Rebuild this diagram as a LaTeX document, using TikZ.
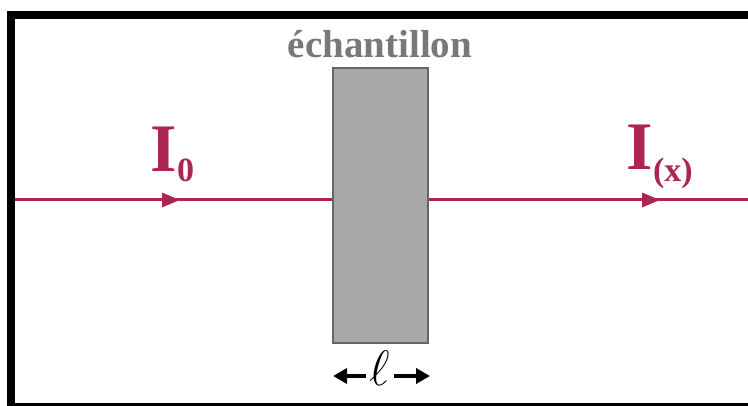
\documentclass[tikz,border=0pt]{standalone}
\usepackage{fontspec}
\setmainfont{Liberation Serif}
\usetikzlibrary{arrows.meta,decorations.markings}
\definecolor{beam}{RGB}{172,38,84}
\definecolor{samplegray}{RGB}{168,168,170}
\definecolor{labelgray}{RGB}{120,120,122}
\tikzset{
  beamline/.style={draw=beam,line width=3pt},
  midarrow/.style={postaction={decorate},decoration={markings,mark=at position #1 with {\arrow{Triangle[length=18pt,width=14pt]}}}},
  intens/.style={text=beam,font=\bfseries\fontsize{68}{68}\selectfont,inner sep=0pt,anchor=base west},
  subs/.style={text=beam,font=\bfseries\fontsize{34}{34}\selectfont,inner sep=0pt,anchor=base west},
  dimarrow/.style={line width=3.5pt,-{Triangle[length=14pt,width=15pt]}},
}
\begin{document}
\begin{tikzpicture}[x=1pt,y=-1pt]
\useasboundingbox (0,0) rectangle (748,406);
\fill[white] (0,0) rectangle (748,406);
% frame
\fill[black] (7,11) rectangle (748,19);
\fill[black] (7,11) rectangle (15,406);
\fill[black] (7,403) rectangle (748,406);
% sample
\node[draw=gray!80!black,fill=samplegray,line width=1.2pt,minimum width=95pt,minimum height=275pt,inner sep=0pt] (sample) at (380.5,205.5) {};
\node[text=labelgray,font=\bfseries\fontsize{39}{39}\selectfont,inner sep=0pt,anchor=base] (lab) at (380,58) {échantillon};
% beams
\coordinate (in) at (15,200);
\coordinate (out) at (748,200);
\draw[beamline,midarrow=0.52] (in) -- (sample.west |- in);
\draw[beamline,midarrow=0.725] (sample.east |- out) -- (out);
% labels
\node[intens] (I0) at (150,172) {I};
\node[subs] (I0s) at (I0.base east) [yshift=-10pt] {0};
\node[intens] (Ix) at (626,170) {I};
\node[subs] (Ixs) at (Ix.base east) [yshift=-12pt] {(x)};
% thickness
\node[inner sep=0pt,anchor=base,font=\Huge,scale=2] (ell) at (380,386) {$\ell$};
\coordinate (lt) at (333,376);
\coordinate (rt) at (430,376);
\draw[dimarrow] (ell.west |- lt) ++(-3,0) -- (lt);
\draw[dimarrow] (ell.east |- rt) ++(3,0) -- (rt);
\end{tikzpicture}
\end{document}
